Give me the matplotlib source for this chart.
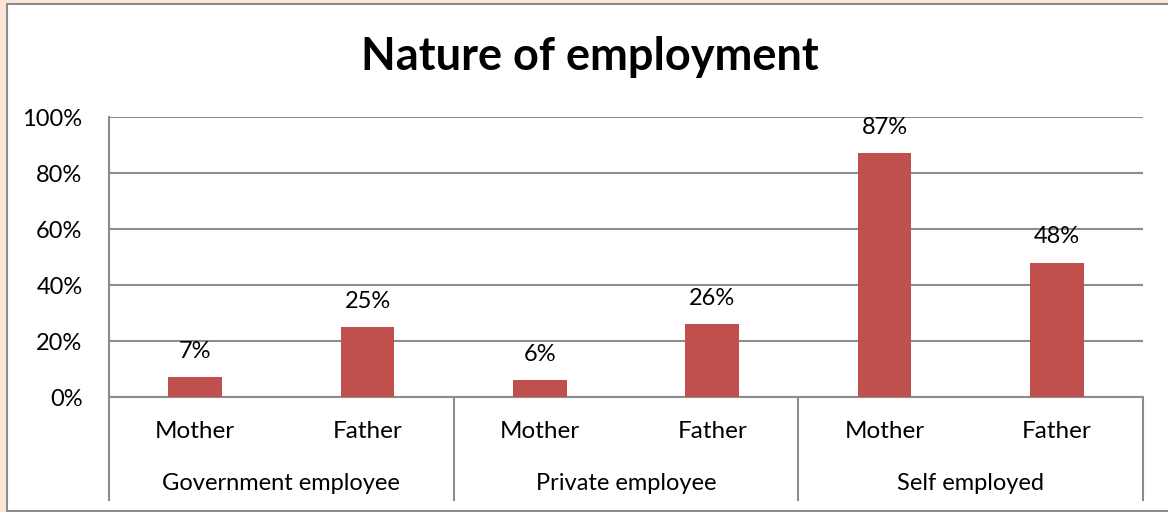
"""
Nature of employment - clustered column chart.
"""

import matplotlib
matplotlib.use('Agg')
import matplotlib.pyplot as plt
from matplotlib.patches import Rectangle
from matplotlib.transforms import blended_transform_factory

# data
groups = ['Government employee', 'Private employee', 'Self employed']
parents = ['Mother', 'Father']
values = [7, 25, 6, 26, 87, 48]
y_ticks = [0, 20, 40, 60, 80, 100]

plt.rcParams['font.family'] = ['Lato', 'DejaVu Sans']

fig = plt.figure(figsize=(11.68, 5.12), dpi=100)
fig.patch.set_facecolor('#FBE5D6')

# white chart area with gray frame
fig.patches.append(Rectangle((7 / 1168, 1 / 512), 1.0, 507 / 512, transform=fig.transFigure,
                             facecolor='white', edgecolor='#8C8C8C', linewidth=1.5, zorder=-10))

ax = fig.add_axes([109 / 1168, 115 / 512, 1034 / 1168, 280 / 512])
ax.set_facecolor('none')
ax.set_zorder(5)

x = list(range(len(values)))
ax.bar(x, values, width=0.31, color='#C0504D', zorder=3)
for xi, v in zip(x, values):
    ax.annotate(f'{v}%', (xi, v), xytext=(0, 11), textcoords='offset points',
                ha='center', va='bottom', fontsize=17)

ax.set_xlim(-0.5, len(values) - 0.5)
ax.set_ylim(0, 100)
ax.set_yticks(y_ticks)
ax.set_yticklabels([f'{t}%' for t in y_ticks], fontsize=17)
ax.yaxis.grid(True, color='#8C8C8C', linewidth=1.5, zorder=0)
ax.set_axisbelow(True)
ax.tick_params(axis='y', length=0, pad=19)

ax.set_xticks(x)
ax.set_xticklabels(parents * len(groups), fontsize=17.5)
ax.tick_params(axis='x', length=0, pad=17)

for side in ['top', 'right']:
    ax.spines[side].set_visible(False)
ax.spines['left'].set_color('#8C8C8C')
ax.spines['left'].set_linewidth(1.5)
ax.spines['bottom'].set_color('#8C8C8C')
ax.spines['bottom'].set_linewidth(1.5)

# group labels and separators under the axis
trans = blended_transform_factory(ax.transData, ax.transAxes)
for i in range(len(groups) + 1):
    xb = i * 2 - 0.5
    ax.plot([xb, xb], [0, -0.368], transform=trans, color='#8C8C8C',
            linewidth=1.5, clip_on=False)
for i, g in enumerate(groups):
    ax.text(i * 2 + 0.5, -0.31, g, transform=trans, ha='center', va='center', fontsize=17)

fig.text(590 / 1168, 1 - 57 / 512, 'Nature of employment', ha='center', va='center',
         fontsize=32.5, fontweight='bold')

plt.savefig('out.png', dpi=100, facecolor=fig.get_facecolor())
